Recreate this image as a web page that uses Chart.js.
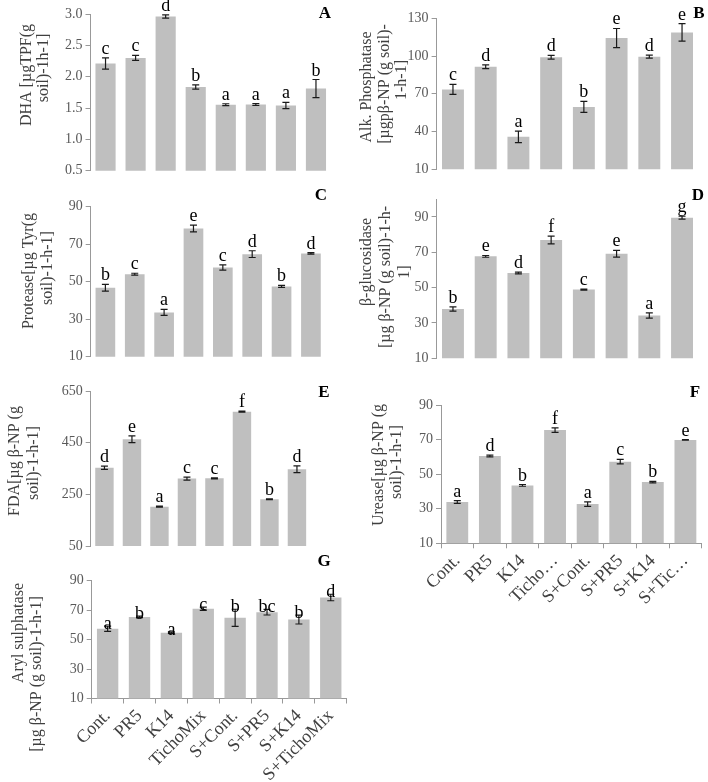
<!DOCTYPE html>
<html><head><meta charset="utf-8">
<script src="https://cdn.jsdelivr.net/npm/chart.js@4.4.0/dist/chart.umd.min.js"></script>
<style>
html,body{margin:0;padding:0;background:#fff;}
#wrap{position:relative;width:708px;height:782px;overflow:hidden;background:#fff;}
#wrap canvas{position:absolute;left:0;top:0;}
</style></head><body><div id="wrap"></div>
<script>
// ---- data ----
const categories = ['Cont.', 'PR5', 'K14', 'TichoMix', 'S+Cont.', 'S+PR5', 'S+K14', 'S+TichoMix'];
const categoriesShort = ['Cont.', 'PR5', 'K14', 'Ticho…', 'S+Cont.', 'S+PR5', 'S+K14', 'S+Tic…'];

const dhaValues = [2.21, 2.30, 2.96, 1.835, 1.553, 1.557, 1.54, 1.81];
const dhaErrors = [0.09, 0.04, 0.025, 0.035, 0.015, 0.015, 0.05, 0.145];
const dhaLetters = ['c', 'c', 'd', 'b', 'a', 'a', 'a', 'b'];
const dhaTicks = [0.5, 1.0, 1.5, 2.0, 2.5, 3.0];

const alkValues = [73.5, 91.5, 35.8, 99, 59.6, 114.3, 99.5, 118.8];
const alkErrors = [4, 1.5, 4.6, 1.5, 4.4, 7.6, 1.2, 6.9];
const alkLetters = ['c', 'd', 'a', 'd', 'b', 'e', 'd', 'e'];
const alkTicks = [10, 40, 70, 100, 130];

const protValues = [46.8, 54, 33.6, 78.4, 57.6, 64.7, 47.5, 65.1];
const protErrors = [1.8, 0.5, 1.6, 1.8, 1.4, 1.8, 0.5, 0.4];
const protLetters = ['b', 'c', 'a', 'e', 'c', 'd', 'b', 'd'];
const protTicks = [10, 30, 50, 70, 90];

const glucValues = [37.9, 67.7, 58.3, 77, 48.9, 69.2, 34.2, 89.6];
const glucErrors = [1.2, 0.5, 0.5, 2.2, 0.3, 1.9, 1.5, 0.8];
const glucLetters = ['b', 'e', 'd', 'f', 'c', 'e', 'a', 'g'];
const glucTicks = [10, 30, 50, 70, 90];

const fdaValues = [353, 463, 202, 311, 312, 570, 231, 347];
const fdaErrors = [6.5, 13, 2, 6, 2, 2, 2, 13];
const fdaLetters = ['d', 'e', 'a', 'c', 'c', 'f', 'b', 'd'];
const fdaTicks = [50, 250, 450, 650];

const ureValues = [33.9, 60.5, 43.5, 75.5, 32.7, 57.2, 45.4, 69.8];
const ureErrors = [0.8, 0.5, 0.5, 1.3, 1.3, 1.3, 0.4, 0.2];
const ureLetters = ['a', 'd', 'b', 'f', 'a', 'c', 'b', 'e'];
const ureTicks = [10, 30, 50, 70, 90];

const arylValues = [57.4, 65.4, 54.7, 71, 64.8, 68.6, 63.6, 78.6];
const arylErrors = [1.8, 0.5, 0.5, 1.1, 5.8, 1.9, 3, 2.2];
const arylLetters = ['a', 'b', 'a', 'c', 'b', 'bc', 'b', 'd'];
const arylTicks = [10, 30, 50, 70, 90];

// ---- layout / styles ----
const FONT = "'Liberation Serif','Times New Roman',serif";
const W = 708, H = 782, Y_W = 40;

const panels = [
  {id:'A', values:dhaValues, errors:dhaErrors, letters:dhaLetters, ticks:dhaTicks, min:0.5, max:3.0, dec:1,
   area:{left:90.5, right:331, top:14, bottom:170.7}, xLabels:null,
   title:[['DHA [µgTPF(g', 27, 75], ['soil)-1h-1]', 44, 68]], tag:['A', 325, 14], above:true},
  {id:'B', values:alkValues, errors:alkErrors, letters:alkLetters, ticks:alkTicks, min:10, max:130, dec:0,
   area:{left:436.6, right:698.4, top:18.3, bottom:169.3}, xLabels:null,
   title:[['Alk. Phosphatase', 367, 87], ['[µgpβ-NP (g soil)-', 385, 84], ['1-h-1]', 402, 80]], tag:['B', 699, 14], above:true},
  {id:'C', values:protValues, errors:protErrors, letters:protLetters, ticks:protTicks, min:10, max:90, dec:0,
   area:{left:90.7, right:325.6, top:206.7, bottom:356.7}, xLabels:null,
   title:[['Protease[µg Tyr(g', 29, 271], ['soil)-1-h-1]', 47.5, 268]], tag:['C', 321, 196], above:true},
  {id:'D', values:glucValues, errors:glucErrors, letters:glucLetters, ticks:glucTicks, min:10, max:100, dec:0,
   area:{left:436.6, right:698.4, top:199.3, bottom:358.3}, xLabels:null,
   title:[['β-glucosidase', 367, 262], ['[µg β-NP (g soil)-1-h-', 386, 277], ['1]', 405, 272]], tag:['D', 698, 196], above:true},
  {id:'E', values:fdaValues, errors:fdaErrors, letters:fdaLetters, ticks:fdaTicks, min:50, max:650, dec:0,
   area:{left:90.7, right:310.7, top:391, bottom:546}, xLabels:null,
   title:[['FDA[µg β-NP (g', 15, 461], ['soil)-1-h-1]', 34, 463]], tag:['E', 324, 393], above:true},
  {id:'F', values:ureValues, errors:ureErrors, letters:ureLetters, ticks:ureTicks, min:10, max:90, dec:0,
   area:{left:441, right:701.7, top:405, bottom:543.3}, xLabels:categoriesShort, xh:120,
   title:[['Urease[µg β-NP (g', 379, 465], ['soil)-1-h-1]', 397, 462]], tag:['F', 695, 393], above:true},
  {id:'G', values:arylValues, errors:arylErrors, letters:arylLetters, ticks:arylTicks, min:10, max:90, dec:0,
   area:{left:91.7, right:346.7, top:580.7, bottom:698.5}, xLabels:categories, xh:83.5,
   title:[['Aryl sulphatase', 19, 633], ['[µg β-NP (g soil)-1-h-1]', 37, 674]], tag:['G', 324, 562], above:false}
];

function overlay(p) {
  return {
    id: 'overlay' + p.id,
    afterDatasetsDraw(chart) {
      const ctx = chart.ctx;
      const meta = chart.getDatasetMeta(0);
      const ys = chart.scales.y;
      ctx.save();
      ctx.strokeStyle = '#1a1a1a';
      ctx.lineWidth = 1.2;
      ctx.fillStyle = '#000';
      ctx.font = '18px ' + FONT;
      ctx.textAlign = 'center';
      ctx.textBaseline = 'alphabetic';
      meta.data.forEach((bar, i) => {
        const v = p.values[i], e = p.errors[i];
        const x = bar.x;
        const yt = ys.getPixelForValue(v + e);
        const yb = ys.getPixelForValue(v - e);
        ctx.beginPath();
        ctx.moveTo(x, yt); ctx.lineTo(x, yb);
        ctx.moveTo(x - 3.5, yt); ctx.lineTo(x + 3.5, yt);
        ctx.moveTo(x - 3.5, yb); ctx.lineTo(x + 3.5, yb);
        ctx.stroke();
        ctx.fillText(p.letters[i], x, p.above ? yt - 4 : yt + 3);
      });
      // axis titles
      ctx.fillStyle = '#404040';
      ctx.font = '16px ' + FONT;
      ctx.textBaseline = 'middle';
      p.title.forEach(([t, tx, ty]) => {
        ctx.save();
        ctx.translate(tx, ty);
        ctx.rotate(-Math.PI / 2);
        ctx.fillText(t, 0, 0);
        ctx.restore();
      });
      // panel tag
      ctx.fillStyle = '#000';
      ctx.font = 'bold 17px ' + FONT;
      ctx.fillText(p.tag[0], p.tag[1], p.tag[2]);
      ctx.restore();
    }
  };
}

const wrap = document.getElementById('wrap');
panels.forEach(p => {
  const c = document.createElement('canvas');
  c.width = W; c.height = H;
  c.style.width = W + 'px'; c.style.height = H + 'px';
  wrap.appendChild(c);
  const XH = p.xLabels ? p.xh : 0;
  new Chart(c, {
    type: 'bar',
    data: {
      labels: p.xLabels || categories,
      datasets: [{
        data: p.values,
        backgroundColor: '#bfbfbf',
        borderWidth: 0,
        barPercentage: 0.67,
        categoryPercentage: 1
      }]
    },
    options: {
      responsive: false,
      animation: false,
      devicePixelRatio: 1,
      layout: {padding: {
        left: p.area.left - Y_W,
        right: W - p.area.right,
        top: p.area.top,
        bottom: Math.max(0, H - p.area.bottom - XH)
      }},
      plugins: {legend: {display: false}, tooltip: {enabled: false}, title: {display: false}},
      scales: {
        x: {
          display: !!p.xLabels,
          offset: true,
          grid: {display: true, drawOnChartArea: false, drawTicks: true, tickLength: 5, color: '#999', offset: true},
          border: {display: true, color: '#999'},
          ticks: {autoSkip: false, minRotation: 45, maxRotation: 45, padding: 2,
                  font: {family: FONT, size: 18}, color: '#404040'},
          afterFit: s => { s.height = XH; }
        },
        y: {
          min: p.min, max: p.max,
          afterBuildTicks: s => { s.ticks = p.ticks.map(v => ({value: v})); },
          afterFit: s => { s.width = Y_W; },
          grid: {display: true, drawOnChartArea: false, drawTicks: true, tickLength: 5, color: '#999'},
          border: {display: true, color: '#999'},
          ticks: {padding: 3, font: {family: FONT, size: 14}, color: '#595959',
                  callback: v => Number(v).toFixed(p.dec)}
        }
      }
    },
    plugins: [overlay(p)]
  });
});
</script></body></html>
